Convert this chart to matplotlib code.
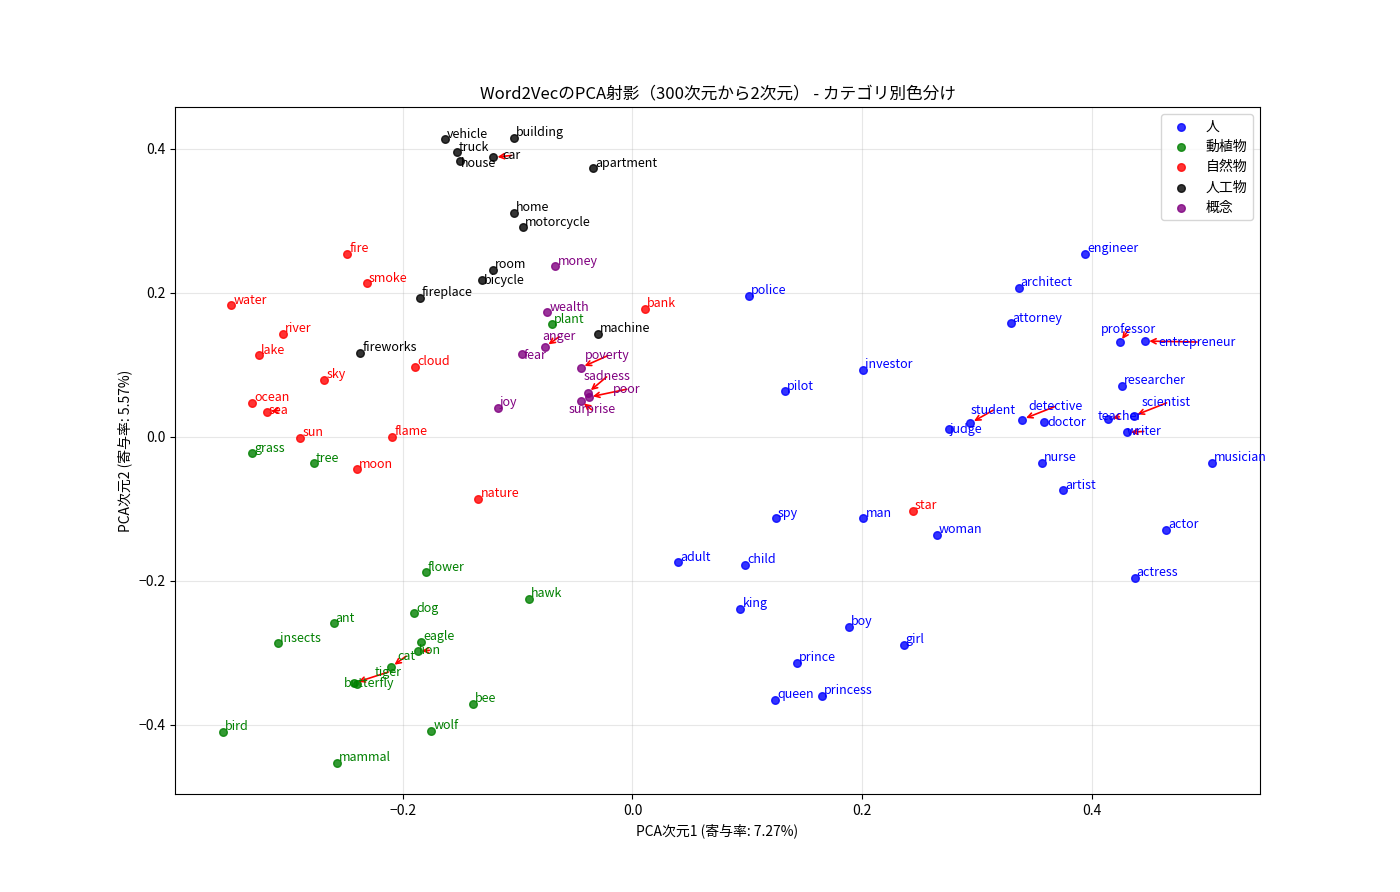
import matplotlib
matplotlib.use("Agg")
import matplotlib.pyplot as plt

plt.rcParams['font.family'] = ['Noto Sans CJK JP', 'DejaVu Sans']

# category names and colours
categories = ["人", "動植物", "自然物", "人工物", "概念"]
colors = ["blue", "green", "red", "black", "purple"]

# words per category with their 2D PCA coordinates
people_words = ["engineer", "architect", "attorney", "professor", "entrepreneur",
                "researcher", "scientist", "teacher", "writer", "student",
                "detective", "doctor", "judge", "nurse", "artist", "musician",
                "actor", "actress", "police", "investor", "pilot", "spy", "man",
                "woman", "adult", "child", "king", "boy", "girl", "prince",
                "queen", "princess"]
people_x = [0.394, 0.336, 0.329, 0.424, 0.446, 0.426, 0.436, 0.414, 0.430, 0.294,
            0.339, 0.358, 0.275, 0.356, 0.375, 0.504, 0.464, 0.437, 0.101, 0.201,
            0.133, 0.125, 0.201, 0.265, 0.040, 0.098, 0.094, 0.188, 0.236, 0.143,
            0.124, 0.165]
people_y = [0.254, 0.207, 0.158, 0.131, 0.133, 0.071, 0.029, 0.025, 0.006, 0.019,
            0.024, 0.021, 0.011, -0.036, -0.074, -0.036, -0.129, -0.196, 0.196, 0.093,
            0.063, -0.113, -0.113, -0.136, -0.174, -0.178, -0.239, -0.264, -0.289, -0.314,
            -0.365, -0.360]

animal_words = ["grass", "tree", "plant", "flower", "hawk", "dog", "ant", "insects",
                "eagle", "lion", "cat", "tiger", "butterfly", "bee", "bird", "wolf",
                "mammal"]
animal_x = [-0.331, -0.277, -0.070, -0.180, -0.090, -0.190, -0.260, -0.308,
            -0.184, -0.187, -0.210, -0.242, -0.240, -0.139, -0.356, -0.175,
            -0.257]
animal_y = [-0.023, -0.037, 0.156, -0.188, -0.225, -0.245, -0.259, -0.287,
            -0.285, -0.298, -0.320, -0.342, -0.343, -0.371, -0.410, -0.408,
            -0.453]

nature_words = ["fire", "smoke", "water", "river", "lake", "sky", "ocean", "sea",
                "cloud", "sun", "flame", "moon", "nature", "bank", "star"]
nature_x = [-0.248, -0.231, -0.349, -0.304, -0.325, -0.268, -0.331, -0.318,
            -0.189, -0.289, -0.209, -0.240, -0.134, 0.011, 0.244]
nature_y = [0.254, 0.213, 0.183, 0.143, 0.113, 0.079, 0.047, 0.035,
            0.097, -0.001, 0.000, -0.045, -0.086, 0.178, -0.103]

artifact_words = ["vehicle", "building", "truck", "house", "car", "apartment",
                  "home", "motorcycle", "room", "bicycle", "fireplace", "machine",
                  "fireworks"]
artifact_x = [-0.163, -0.103, -0.153, -0.150, -0.121, -0.034,
              -0.103, -0.095, -0.121, -0.131, -0.185, -0.030,
              -0.237]
artifact_y = [0.413, 0.415, 0.395, 0.383, 0.388, 0.373,
              0.311, 0.291, 0.232, 0.218, 0.193, 0.143,
              0.117]

concept_words = ["money", "wealth", "anger", "fear", "joy", "poverty", "sadness",
                 "poor", "surprise"]
concept_x = [-0.067, -0.074, -0.076, -0.096, -0.117, -0.045, -0.039,
             -0.038, -0.045]
concept_y = [0.237, 0.173, 0.125, 0.115, 0.040, 0.096, 0.061,
             0.055, 0.050]

groups = [
    (people_words, people_x, people_y),
    (animal_words, animal_x, animal_y),
    (nature_words, nature_x, nature_y),
    (artifact_words, artifact_x, artifact_y),
    (concept_words, concept_x, concept_y),
]

# labels that were pushed away from their point (text centre offset in pixels)
moved = {
    "car": (18, 2, True), "house": (18, -2, False), "bicycle": (22, -1, False),
    "fear": (13, -2, False),
    "anger": (14, 10, True), "poverty": (27, 12, True),
    "sadness": (19, 16, True), "poor": (38, 8, True), "surprise": (11, -9, True),
    "sea": (12, 1, True), "cat": (15, 11, True), "lion": (12, 1, True),
    "tiger": (34, 11, True), "butterfly": (13, 0, False),
    "professor": (9, 13, True), "entrepreneur": (52, -1, True),
    "student": (23, 13, True), "detective": (33, 13, True),
    "scientist": (33, 13, True), "teacher": (11, 2, True),
    "writer": (17, 1, True), "judge": (17, -1, False), "doctor": (23, -1, False),
}

fig, ax = plt.subplots(figsize=(14, 8.92), dpi=100)

for cat, col, (words, xs, ys) in zip(categories, colors, groups):
    ax.scatter(xs, ys, c=col, s=30, alpha=0.8, label=cat, zorder=3)
    for w, x, y in zip(words, xs, ys):
        if w in moved:
            dx, dy, arrow = moved[w]
            props = None
            if arrow:
                props = dict(arrowstyle="->", color="red", lw=1.2,
                             patchA=None, shrinkA=0, shrinkB=3)
            ax.annotate(w, (x, y), xytext=(dx, dy), textcoords="offset pixels",
                        ha="center", va="center", fontsize=9, color=col,
                        arrowprops=props, zorder=4)
        else:
            ax.annotate(w, (x, y), xytext=(2, 1.5), textcoords="offset pixels",
                        ha="left", va="baseline", fontsize=9, color=col, zorder=4)

ax.set_xlim(-0.398, 0.546)
ax.set_ylim(-0.496, 0.458)
ax.set_title("Word2VecのPCA射影（300次元から2次元） - カテゴリ別色分け", fontsize=12)
ax.set_xlabel("PCA次元1 (寄与率: 7.27%)")
ax.set_ylabel("PCA次元2 (寄与率: 5.57%)")
ax.grid(True, alpha=0.3)
ax.legend(loc="upper right", labelspacing=0.45)

plt.savefig("out.png", dpi=100)
